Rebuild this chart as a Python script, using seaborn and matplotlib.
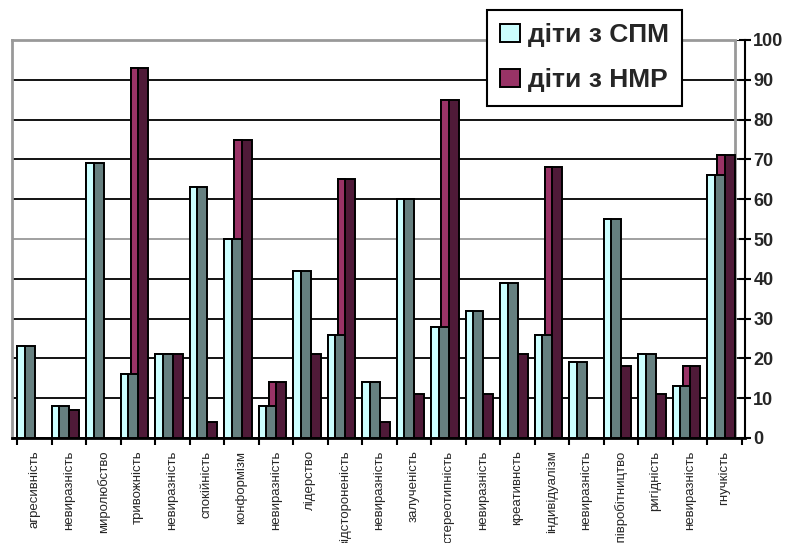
import numpy as np
import seaborn as sns
import matplotlib.pyplot as plt
from matplotlib.patches import Patch

categories = ['агресивність', 'невиразність', 'миролюбство', 'тривожність', 'невиразність',
              'спокійність', 'конформізм', 'невиразність', 'лідерство', 'відстороненість',
              'невиразність', 'залученість', 'стереотипність', 'невиразність', 'креативнсть',
              'індивідуалізм', 'невиразність', 'співробітництво', 'ригідність', 'невиразність',
              'гнучкість']
spm = [23, 8, 69, 16, 21, 63, 50, 8, 42, 26, 14, 60, 28, 32, 39, 26, 19, 55, 21, 13, 66]
nmr = [0, 7, 0, 93, 21, 4, 75, 14, 21, 65, 4, 11, 85, 11, 21, 68, 0, 18, 11, 18, 71]
series_names = ['діти з СПМ', 'діти з НМР']
yticks = list(range(0, 101, 10))

sns.set_style('white')
plt.rcParams['font.family'] = ['Liberation Sans', 'DejaVu Sans']

fig = plt.figure(figsize=(7.86, 5.43), dpi=100)
ax = fig.add_axes([12 / 786, 105 / 543, 733 / 786, 398 / 543])

idx = np.arange(len(categories))
bar_w = 0.52     # whole column (front + side)
front_w = 0.23   # light front face
shift = 0.29     # second series sits behind, shifted right

# back series first so the front one covers it
series = [
    (nmr, shift, '#4f1a38', '#993366'),
    (spm, 0.0, '#668080', '#ccffff'),
]
for vals, off, side, face in series:
    sns.barplot(x=idx + off + bar_w / 2, y=vals, native_scale=True, width=bar_w,
                color=side, saturation=1, edgecolor='black', linewidth=1.4,
                errorbar=None, ax=ax, zorder=3)
    sns.barplot(x=idx + off + front_w / 2, y=vals, native_scale=True, width=front_w,
                color=face, saturation=1, edgecolor='black', linewidth=1.4,
                errorbar=None, ax=ax, zorder=3)

ax.set_xlim(-0.145, 21.1)
ax.set_ylim(0, 100)

# grid / walls
ax.set_axisbelow(True)
ax.yaxis.grid(True, color='black', linewidth=1.3)
ax.xaxis.grid(False)
gl = ax.get_ygridlines()
gl[-1].set_color('#999999')
ax.axvline(20.8, color='#999999', linewidth=2, zorder=1)

for s in ['left', 'top']:
    ax.spines[s].set_color('#999999')
    ax.spines[s].set_linewidth(2)
ax.spines['top'].set_bounds(-0.145, 20.8)
ax.spines['right'].set_color('black')
ax.spines['right'].set_linewidth(1.5)
ax.spines['bottom'].set_color('black')
ax.spines['bottom'].set_linewidth(2)

ax.yaxis.tick_right()
ax.set_yticks(yticks)
ax.set_yticklabels([str(v) for v in yticks], fontsize=13, fontweight='bold')
ax.tick_params(axis='y', direction='inout', length=8, width=1.5, color='black', pad=2,
               left=False, right=True)

ax.set_xticks(idx + 0.5)
ax.set_xticklabels(categories, rotation=90, fontsize=9.5)
ax.set_xticks(np.arange(len(categories) + 1), minor=True)
ax.tick_params(axis='x', which='major', length=0, pad=9)
ax.tick_params(axis='x', which='minor', length=5, width=1.5, color='black', bottom=True)
ax.set_xlabel('')
ax.set_ylabel('')

handles = [Patch(facecolor='#ccffff', edgecolor='black', linewidth=1.4),
           Patch(facecolor='#993366', edgecolor='black', linewidth=1.4)]
leg = fig.legend(handles, series_names, loc='upper left',
                 bbox_to_anchor=(487 / 786, 1 - 10 / 543), borderaxespad=0,
                 prop={'size': 19, 'weight': 'bold'}, frameon=True, fancybox=False,
                 edgecolor='black', framealpha=1, handlelength=0.75, handleheight=0.7,
                 handletextpad=0.3, labelspacing=0.8, borderpad=0.5)
leg.get_frame().set_linewidth(1.5)

fig.savefig('out.png', dpi=100)
